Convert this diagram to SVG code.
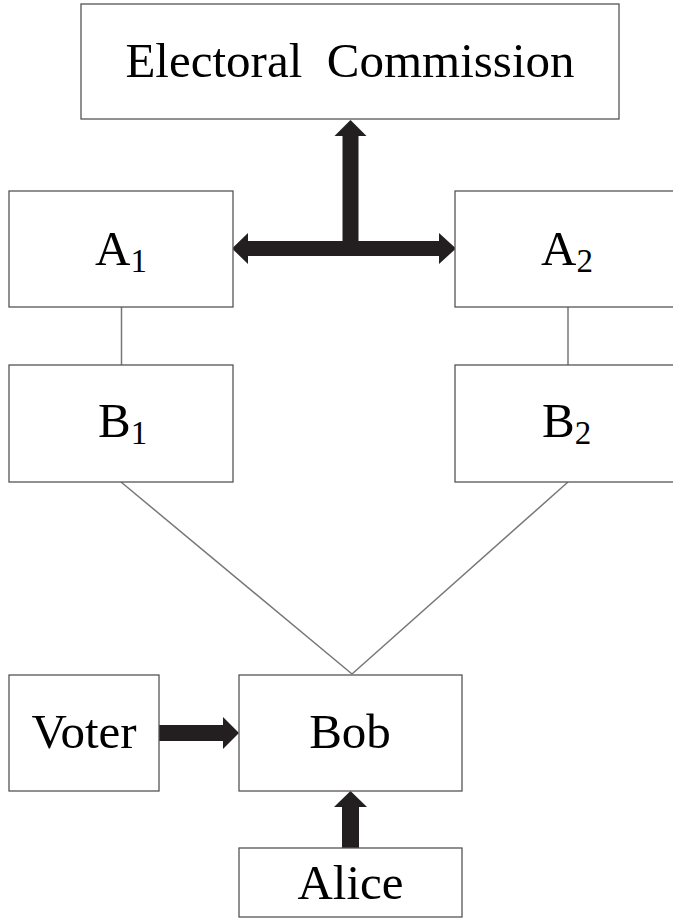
<svg xmlns="http://www.w3.org/2000/svg" width="673" height="919" viewBox="0 0 673 919" font-family="'Liberation Serif', 'Times New Roman', serif">
<style>
.box{fill:#fff;stroke:#555;stroke-width:1.3}
text{font-family:'Liberation Serif','Times New Roman',serif;font-size:49px;fill:#000}
.c{text-anchor:middle}
.sub{font-size:33px}
.ln{stroke:#777;stroke-width:1.5;fill:none}
.ar{fill:#231f20;stroke:none}
</style>
<rect width="673" height="919" fill="#fff"/>
<g id="connectors">
<line class="ln" x1="121.5" y1="307" x2="121.5" y2="365"/>
<line class="ln" x1="568" y1="307" x2="568" y2="365"/>
<line class="ln" x1="121" y1="482" x2="352" y2="674"/>
<line class="ln" x1="568" y1="482" x2="352" y2="674"/>
<path class="ar" d="M350.5,120 L366.5,136 L358.5,136 L358.5,241 L439,241 L439,233 L456,248.5 L439,264 L439,256 L248,256 L248,264 L232,248.5 L248,233 L248,241 L342.5,241 L342.5,136 L334.5,136 Z"/>
<path class="ar" d="M159,725 L223,725 L223,717 L239,733 L223,749 L223,741 L159,741 Z"/>
<path class="ar" d="M342,848 L342,807 L334,807 L350.5,791 L367,807 L359,807 L359,848 Z"/>
</g>
<g id="ec"><rect class="box" x="81" y="4" width="538" height="115"/><text class="c" x="350" y="77" xml:space="preserve">Electoral  Commission</text></g>
<g id="a1"><rect class="box" x="9" y="191" width="224" height="116"/><text x="95" y="265">A<tspan class="sub" dy="7">1</tspan></text></g>
<g id="a2"><rect class="box" x="455" y="191" width="224" height="116"/><text x="541" y="265">A<tspan class="sub" dy="7">2</tspan></text></g>
<g id="b1"><rect class="box" x="9" y="365" width="224" height="117"/><text x="98" y="437">B<tspan class="sub" dy="7">1</tspan></text></g>
<g id="b2"><rect class="box" x="455" y="365" width="224" height="117"/><text x="542" y="437">B<tspan class="sub" dy="7">2</tspan></text></g>
<g id="voter"><rect class="box" x="9" y="675" width="150" height="116"/><text class="c" x="84" y="748">Voter</text></g>
<g id="bob"><rect class="box" x="239" y="675" width="223" height="116"/><text class="c" x="350" y="748">Bob</text></g>
<g id="alice"><rect class="box" x="239" y="848" width="223" height="69"/><text class="c" x="350.5" y="899">Alice</text></g>
</svg>
